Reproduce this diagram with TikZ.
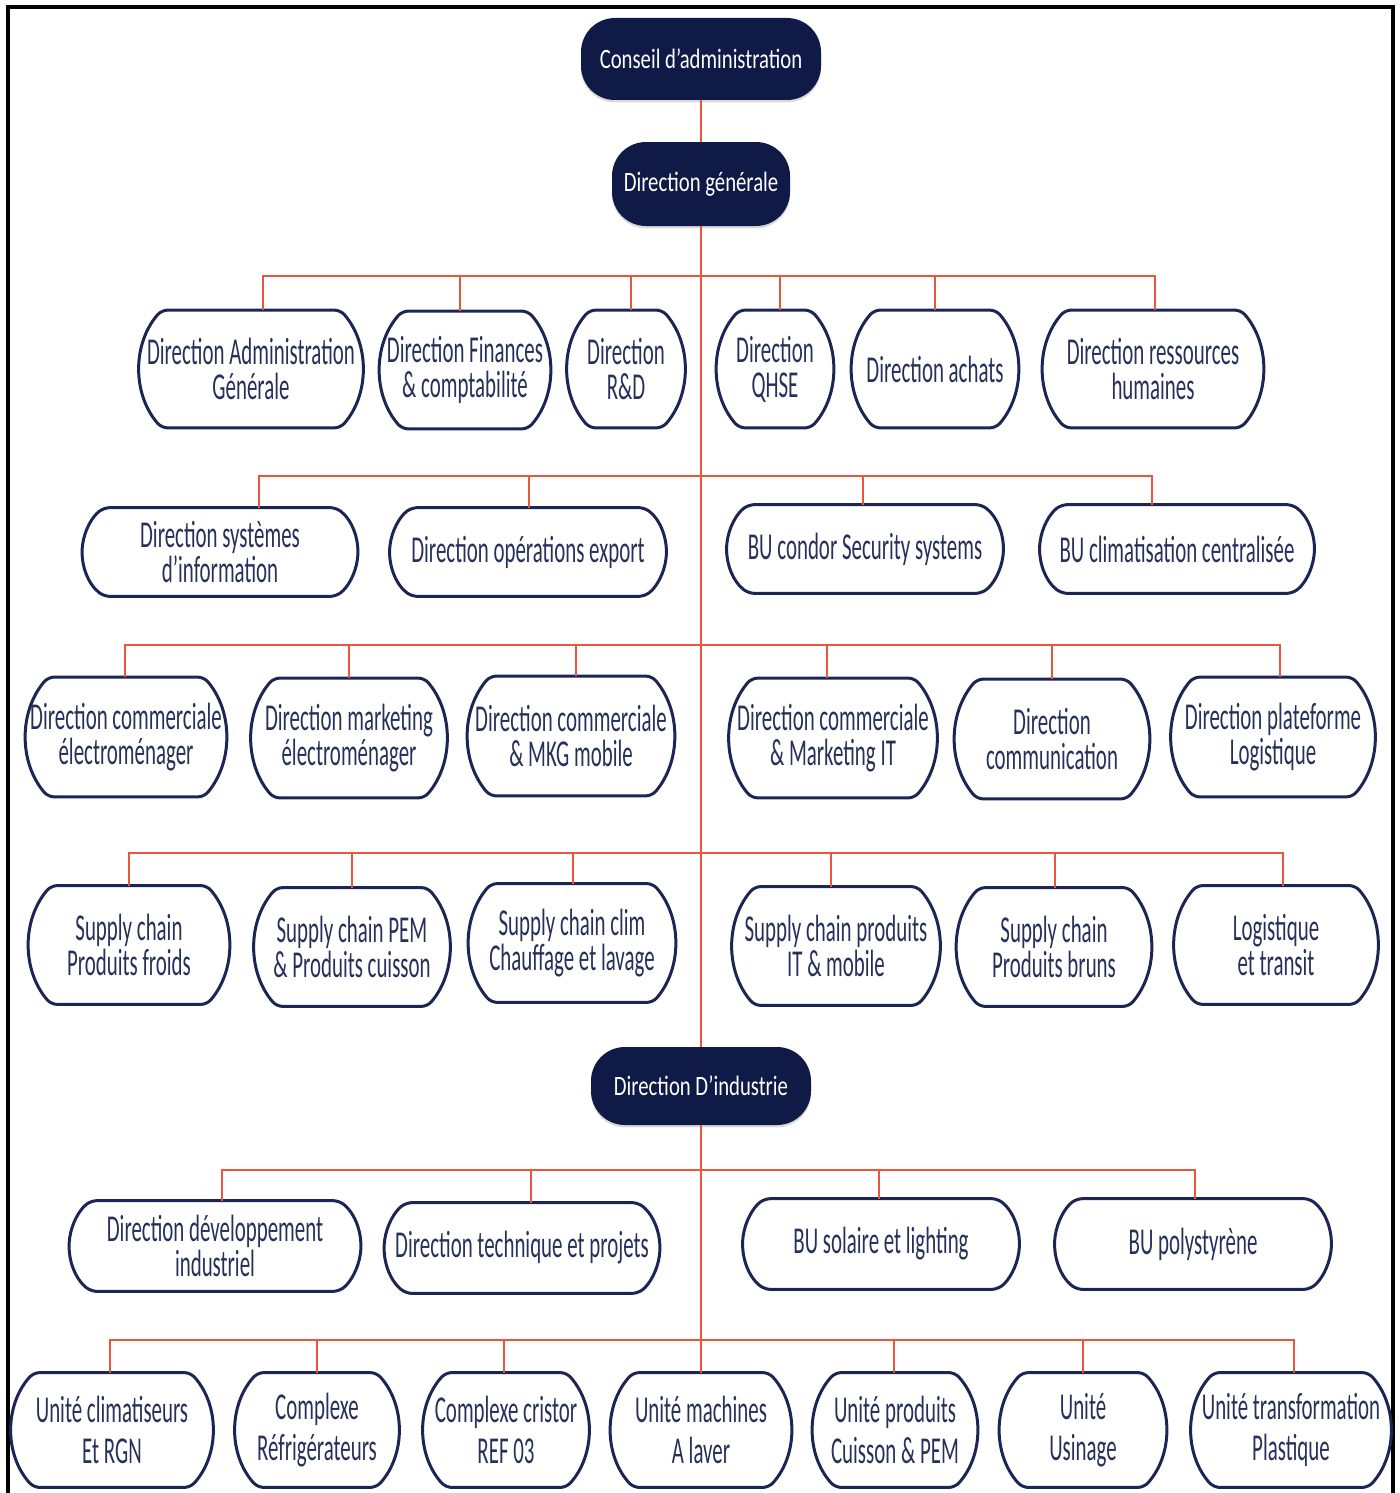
\documentclass[tikz,border=0pt]{standalone}
\usepackage{fontspec}
\setmainfont{Carlito}
\newfontfamily\boxfont[FakeStretch=0.55]{Carlito}
\newfontfamily\headfont[FakeStretch=0.74]{Carlito}
\usetikzlibrary{calc,shadows}

\definecolor{navy}{HTML}{101A47}
\definecolor{boxline}{HTML}{1C2553}
\definecolor{boxtext}{HTML}{27305B}
\definecolor{linkred}{HTML}{E8563B}

% side bulge of the unit outlines
\newcommand\unitbulge{11}

\tikzset{
  sz/.style 2 args={minimum width=#1*0.5pt, minimum height=#2*0.5pt},
  unitbox/.style={rectangle, text=boxtext, align=center, inner sep=0pt,
    font=\boxfont\fontsize{19}{17.5}\selectfont},
  lowrow/.style={unitbox, font=\boxfont\fontsize{19}{20.5}\selectfont},
  unitline/.style={draw=boxline, line width=1.5pt, rounded corners=3pt},
  headbox/.style={rectangle, rounded corners=17pt, fill=navy, text=white,
    align=center, inner sep=0pt,
    font=\headfont\fontsize{14}{16}\selectfont,
    drop shadow={opacity=0.3, shadow xshift=0pt, shadow yshift=-1.2pt}},
  link/.style={draw=linkred, line width=1.4pt},
  frameline/.style={draw=black, line width=2pt}
}

% outline with flat top/bottom and circular arcs on both sides
\newcommand\unitoutline[1]{%
  \draw[unitline] let \p1=(#1.north west), \p2=(#1.south east), \p3=(#1.north),
      \n1={(\y1-\y2)/2},
      \n2={(\n1*\n1/1pt+\unitbulge*\unitbulge*1pt)/(2*\unitbulge)},
      \n3={asin(\n1/\n2)} in
    (\p3) -- (\x2-\unitbulge pt,\y1)
    arc[start angle=\n3, end angle=-\n3, radius=\n2]
    -- (\x1+\unitbulge pt,\y2)
    arc[start angle=180+\n3, end angle=180-\n3, radius=\n2] -- cycle;}

\begin{document}
\begin{tikzpicture}[x=0.5pt, y=-0.5pt]
\useasboundingbox (0,0) rectangle (1400,1493);

% outer frame (open at the bottom)
\draw[frameline] (7.5,1500) -- (7.5,7) -- (1393,7) -- (1393,1500);

% top of the hierarchy
\node[headbox, sz={240}{82}] (ca) at (701,59) {Conseil d’administration};
\node[headbox, sz={178}{84}] (dg) at (701,184) {Direction générale};
\node[headbox, sz={220}{78}] (di) at (701,1086) {Direction D’industrie};

% bus junctions on the trunk
\coordinate (j2) at (701,276);
\coordinate (j3) at (701,476);
\coordinate (j4) at (701,645);
\coordinate (j5) at (701,853);
\coordinate (j7) at (701,1170);
\coordinate (j8) at (701,1340);

% directions under the general management
\node[unitbox, sz={222}{117}] (adm) at (251,369) {Direction Administration\\Générale};
\node[unitbox, sz={169}{117}] (fin) at (465,370) {Direction Finances\\\& comptabilité};
\node[unitbox, sz={116}{117}] (rd) at (626,369) {Direction\\R\&D};
\node[unitbox, sz={115}{117}] (qhse) at (775,369) {Direction\\QHSE};
\node[unitbox, sz={165}{117}] (ach) at (935,369) {Direction achats};
\node[unitbox, sz={219}{117}] (rh) at (1153,369) {Direction ressources\\humaines};

\node[unitbox, sz={275}{88}] (si) at (220,552) {Direction systèmes\\d’information};
\node[unitbox, sz={276}{88}] (exp) at (528,552) {Direction opérations export};
\node[unitbox, sz={276}{88}] (condor) at (865,549) {BU condor Security systems};
\node[unitbox, sz={274}{88}] (clim) at (1177,549) {BU climatisation centralisée};

\node[unitbox, sz={199}{119}] (ce) at (126,737) {Direction commerciale\\électroménager};
\node[unitbox, sz={194}{119}] (me) at (349,738) {Direction marketing\\électroménager};
\node[unitbox, sz={205}{119}] (cm) at (571,736) {Direction commerciale\\\& MKG mobile};
\node[unitbox, sz={206}{119}] (cit) at (833,738) {Direction commerciale\\\& Marketing IT};
\node[unitbox, sz={193}{119}] (com) at (1052,739) {Direction\\communication};
\node[unitbox, sz={202}{119}] (pl) at (1273,737) {Direction plateforme\\Logistique};

\node[unitbox, sz={199}{118}] (sc1) at (129,945) {Supply chain\\Produits froids};
\node[unitbox, sz={194}{118}] (sc2) at (352,947) {Supply chain PEM\\\& Produits cuisson};
\node[unitbox, sz={205}{118}] (sc3) at (572,943) {Supply chain clim\\Chauffage et lavage};
\node[unitbox, sz={206}{118}] (sc4) at (836,946) {Supply chain produits\\IT \& mobile};
\node[unitbox, sz={193}{118}] (sc5) at (1054,947) {Supply chain\\Produits bruns};
\node[unitbox, sz={202}{118}] (sc6) at (1276,945) {Logistique\\et transit};

% directions under the industrial management
\node[unitbox, sz={291}{90}] (ddi) at (215,1246) {Direction développement\\industriel};
\node[unitbox, sz={275}{90}] (dtp) at (522,1248) {Direction technique et projets};
\node[unitbox, sz={276}{90}] (bsl) at (881,1244) {BU solaire et lighting};
\node[unitbox, sz={276}{90}] (bpo) at (1193,1244) {BU polystyrène};

\node[lowrow, sz={200}{114}] (u1) at (112,1430) {Unité climatiseurs\\Et RGN};
\node[lowrow, sz={162}{114}] (u2) at (317,1430) {Complexe\\Réfrigérateurs};
\node[lowrow, sz={164}{114}] (u3) at (506,1430) {Complexe cristor\\REF 03};
\node[lowrow, sz={179}{114}] (u4) at (701,1430) {Unité machines\\A laver};
\node[lowrow, sz={163}{114}] (u5) at (895,1430) {Unité produits\\Cuisson \& PEM};
\node[lowrow, sz={165}{114}] (u6) at (1083,1430) {Unité\\Usinage};
\node[lowrow, sz={198}{114}] (u7) at (1291,1430) {Unité transformation\\Plastique};

% unit outlines
\foreach \u in {adm,fin,rd,qhse,ach,rh,si,exp,condor,clim,
                ce,me,cm,cit,com,pl,sc1,sc2,sc3,sc4,sc5,sc6,
                ddi,dtp,bsl,bpo,u1,u2,u3,u4,u5,u6,u7}
  \unitoutline{\u};

% trunk
\draw[link] (ca.south) -- (dg.north);
\draw[link] (dg.south) -- (di.north);
\draw[link] (di.south) -- (u4.north);

% branches
\foreach \b/\dx in {adm/6, fin/-2.5, rd/2.5, qhse/2.5, ach/0, rh/1}
  \draw[link] (j2) -| ([xshift=\dx pt]\b.north);
\foreach \b/\dx in {si/19.5, exp/0.5, condor/-1, clim/-12.5}
  \draw[link] (j3) -| ([xshift=\dx pt]\b.north);
\foreach \b/\dx in {ce/-0.5, me/0, cm/2.5, cit/-3, com/0, pl/3.5}
  \draw[link] (j4) -| ([xshift=\dx pt]\b.north);
\foreach \b/\dx in {sc1/0, sc2/0, sc3/0.5, sc4/-2.5, sc5/0.5, sc6/3.5}
  \draw[link] (j5) -| ([xshift=\dx pt]\b.north);
\foreach \b/\dx in {ddi/3.5, dtp/4.5, bsl/-1, bpo/1}
  \draw[link] (j7) -| ([xshift=\dx pt]\b.north);
\foreach \b/\dx in {u1/-1, u2/0, u3/-1, u5/-0.5, u6/0, u7/1.5}
  \draw[link] (j8) -| ([xshift=\dx pt]\b.north);
\end{tikzpicture}
\end{document}
